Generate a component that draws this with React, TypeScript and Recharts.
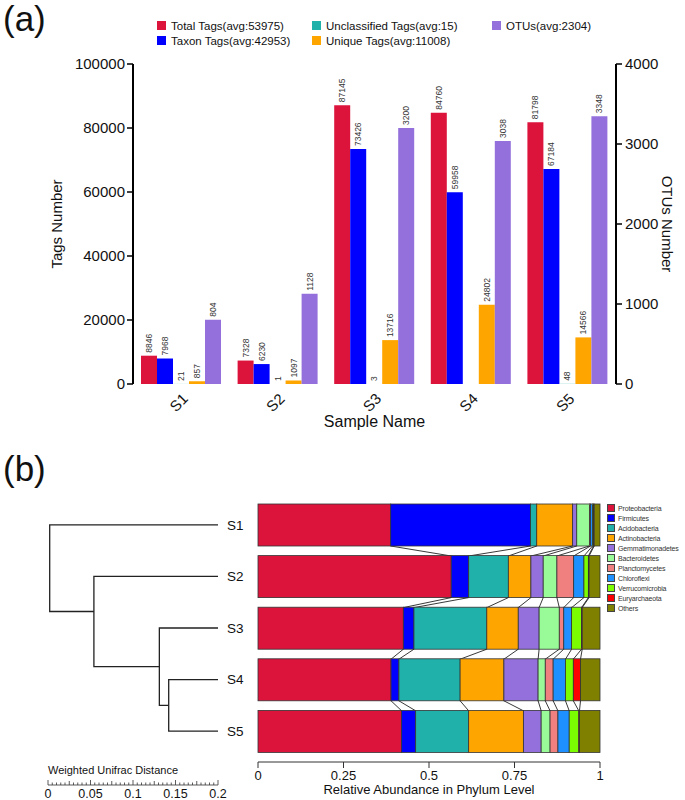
import { BarChart, Bar, XAxis, YAxis, LabelList, ScatterChart, Scatter } from 'recharts'

const FONT = 'Arial, "Liberation Sans", Helvetica, sans-serif'

const samples = ['S1', 'S2', 'S3', 'S4', 'S5']

// (a) tag counts per sample
const totalTags = [8846, 7328, 87145, 84760, 81798]
const taxonTags = [7968, 6230, 73426, 59958, 67184]
const unclassifiedTags = [21, 1, 3, 0, 48]
const uniqueTags = [857, 1097, 13716, 24802, 14566]
const otuCounts = [804, 1128, 3200, 3038, 3348]
const tagTicks = [0, 20000, 40000, 60000, 80000, 100000]
const otuTicks = [0, 1000, 2000, 3000, 4000]

const tagKeys = ['total', 'taxon', 'unclassified', 'unique', 'otus']
const tagNames = [
  'Total Tags(avg:53975)',
  'Taxon Tags(avg:42953)',
  'Unclassified Tags(avg:15)',
  'Unique Tags(avg:11008)',
  'OTUs(avg:2304)',
]
const tagValues = [totalTags, taxonTags, unclassifiedTags, uniqueTags, otuCounts]
const tagColors = ['#DC143C', '#0000FF', '#20B2AA', '#FFA500', '#9370DB']

// (b) relative abundance, phylum level
const phyla = [
  'Proteobacteria', 'Firmicutes', 'Acidobacteria', 'Actinobacteria', 'Gemmatimonadetes',
  'Bacteroidetes', 'Planctomycetes', 'Chloroflexi', 'Verrucomicrobia', 'Euryarchaeota', 'Others',
]
const abundanceS1 = [0.388, 0.409, 0.018, 0.105, 0.012, 0.037, 0.003, 0.006, 0.003, 0.002, 0.017]
const abundanceS2 = [0.565, 0.051, 0.116, 0.066, 0.036, 0.040, 0.049, 0.030, 0.013, 0.002, 0.032]
const abundanceS3 = [0.425, 0.031, 0.213, 0.092, 0.061, 0.059, 0.013, 0.023, 0.029, 0.002, 0.052]
const abundanceS4 = [0.389, 0.023, 0.179, 0.128, 0.100, 0.021, 0.023, 0.036, 0.023, 0.021, 0.057]
const abundanceS5 = [0.420, 0.041, 0.155, 0.160, 0.052, 0.026, 0.023, 0.033, 0.028, 0.002, 0.060]
const abundance = [abundanceS1, abundanceS2, abundanceS3, abundanceS4, abundanceS5]
const abundanceTicks = [0, 0.25, 0.5, 0.75, 1]
const phylumColors = [
  '#DC143C', '#0000FF', '#20B2AA', '#FFA500', '#9370DB',
  '#98FB98', '#F08080', '#1E90FF', '#7CFC00', '#FF0000', '#808000',
]

// weighted unifrac tree: x = position on the distance ruler, pos = vertical slot
const leafX = 0.2
const merges = [
  { id: 'S4+S5', a: 'S4', b: 'S5', x: 0.142, pos: 4.5 },
  { id: 'S3+', a: 'S3', b: 'S4+S5', x: 0.131, pos: 3.75 },
  { id: 'S2+', a: 'S2', b: 'S3+', x: 0.054, pos: 2.68 },
  { id: 'root', a: 'S1', b: 'S2+', x: 0.002, pos: 1.84 },
]
const rulerTicks = Array.from({ length: 41 }, (_, i) => i * 0.005)

const tagRows = samples.map((s, i) => {
  const row: Record<string, string | number> = { sample: s }
  tagKeys.forEach((k, j) => { row[k] = tagValues[j][i] })
  return row
})

const abundanceRows = samples.map((s, i) => {
  const row: Record<string, string | number> = { sample: s }
  phyla.forEach((p, j) => { row[p] = abundance[i][j] })
  return row
})

function nodeOf(id: string) {
  const leaf = samples.indexOf(id)
  if (leaf >= 0) return { x: leafX, pos: leaf + 1 }
  const m = merges.find(n => n.id === id)!
  return { x: m.x, pos: m.pos }
}

const treeLines = merges.map(m => {
  const a = nodeOf(m.a)
  const b = nodeOf(m.b)
  return [
    { x: a.x, y: a.pos },
    { x: m.x, y: a.pos },
    { x: m.x, y: b.pos },
    { x: b.x, y: b.pos },
  ]
})

// recharts puts the category gap on both sides of a band
const ROW_HALF_GAP = 5
const ROW_GAP = ROW_HALF_GAP * 2

function cumAt(row: number, k: number) {
  let s = 0
  for (let j = 0; j < k; j++) s += abundance[row][j]
  return s
}

function makeSegment(k: number) {
  return (p: any) => {
    const row = samples.indexOf(p.payload.sample)
    const { x, y, width, height } = p
    const ppu = width / abundance[row][k]
    const x0 = x - cumAt(row, k) * ppu
    const link = row < samples.length - 1 && k < phyla.length - 1
    return (
      <g>
        <rect x={x} y={y} width={width} height={height} fill={phylumColors[k]} stroke="#333" strokeWidth={0.8} />
        {link && (
          <line
            x1={x + width} y1={y + height}
            x2={x0 + cumAt(row + 1, k + 1) * ppu} y2={y + height + ROW_GAP}
            stroke="#222" strokeWidth={0.9}
          />
        )}
      </g>
    )
  }
}

const ValueLabel = (p: any) => {
  const cx = Number(p.x) + Number(p.width) / 2
  const ty = Number(p.y) - 3
  return (
    <text x={cx} y={ty} transform={`rotate(-90 ${cx} ${ty})`} dy="0.35em" fontSize={8.5} fill="#333" textAnchor="start">
      {p.value}
    </text>
  )
}

const SampleTick = (p: any) => {
  const { x, y, payload } = p
  return (
    <text x={x + 4} y={y + 4} transform={`rotate(-45 ${x + 4} ${y + 4})`} dy="0.35em" textAnchor="end" fontSize={15} fill="#111">
      {payload.value}
    </text>
  )
}

const RulerTick = (p: any) => {
  const { x, y, payload } = p
  const i = Math.round(payload.value / 0.005)
  const major = i % 10 === 0
  const h = major ? 5 : i % 5 === 0 ? 4 : 2.5
  return (
    <g>
      <line x1={x} x2={x} y1={y} y2={y - h} stroke="#333" strokeWidth={0.8} />
      {major && (
        <text x={x} y={y + 13} textAnchor="middle" fontSize={12.5} fill="#111">
          {i === 0 ? '0' : String(+payload.value.toFixed(2))}
        </text>
      )}
    </g>
  )
}

function TagsChart() {
  const axisTick = { fontSize: 15, fill: '#111' }
  return (
    <BarChart
      width={685} height={440} data={tagRows}
      margin={{ top: 64, right: 0, bottom: 10, left: 58 }}
      barCategoryGap={8} barGap={0}
    >
      <XAxis
        xAxisId="grid" type="number" domain={[0, samples.length]}
        ticks={samples.map((_, i) => i).concat(samples.length)}
        height={0} interval={0} tickFormatter={() => ''} tickSize={6}
        axisLine={{ stroke: '#000', strokeWidth: 2 }} tickLine={{ stroke: '#000', strokeWidth: 1.5 }}
      />
      <XAxis
        xAxisId="cat" dataKey="sample" height={46} axisLine={false} tickLine={false}
        interval={0} tick={<SampleTick />}
        label={({ viewBox }: any) => (
          <text x={viewBox.x + viewBox.width / 2} y={viewBox.y + 43} textAnchor="middle" fontSize={16} fill="#111">
            Sample Name
          </text>
        )}
      />
      <YAxis
        yAxisId="tags" width={75} domain={[0, 100000]} ticks={tagTicks} interval={0}
        tick={axisTick} tickSize={6} tickMargin={2}
        axisLine={{ stroke: '#000', strokeWidth: 2 }} tickLine={{ stroke: '#000', strokeWidth: 1.5 }}
        label={({ viewBox }: any) => {
          const cy = viewBox.y + viewBox.height / 2
          return (
            <text x={57} y={cy} transform={`rotate(-90 57 ${cy})`} dy="0.35em" textAnchor="middle" fontSize={15} fill="#111">
              Tags Number
            </text>
          )
        }}
      />
      <YAxis
        yAxisId="otus" orientation="right" width={69} domain={[0, 4000]} ticks={otuTicks} interval={0}
        tick={axisTick} tickSize={6} tickMargin={3}
        axisLine={{ stroke: '#000', strokeWidth: 2 }} tickLine={{ stroke: '#000', strokeWidth: 1.5 }}
        label={({ viewBox }: any) => {
          const cy = viewBox.y + viewBox.height / 2
          return (
            <text x={667} y={cy} transform={`rotate(90 667 ${cy})`} dy="0.35em" textAnchor="middle" fontSize={15} fill="#111">
              OTUs Number
            </text>
          )
        }}
      />
      {tagKeys.map((k, j) => (
        <Bar
          key={k} dataKey={k} name={tagNames[j]} xAxisId="cat"
          yAxisId={k === 'otus' ? 'otus' : 'tags'}
          fill={tagColors[j]} isAnimationActive={false}
        >
          <LabelList dataKey={k} content={<ValueLabel />} />
        </Bar>
      ))}
    </BarChart>
  )
}

function TreeChart() {
  return (
    <ScatterChart width={258} height={320} margin={{ top: 19, right: 0, bottom: 0, left: 48 }}>
      <XAxis
        type="number" dataKey="x" domain={[0, 0.2]} ticks={rulerTicks} interval={0}
        height={15} tickSize={0} tickMargin={0} tick={<RulerTick />}
        axisLine={{ stroke: '#333', strokeWidth: 0.8 }}
        label={({ viewBox }: any) => (
          <text x={viewBox.x} y={viewBox.y - 11} fontSize={11} fill="#111">Weighted Unifrac Distance</text>
        )}
      />
      <YAxis
        type="number" dataKey="y" domain={[0.5, samples.length + 0.5]} reversed orientation="right"
        width={40} ticks={samples.map((_, i) => i + 1)} interval={0}
        tickFormatter={(v: number) => samples[v - 1]} axisLine={false} tickLine={false}
        tickSize={0} tickMargin={9} tick={{ fontSize: 13.5, fill: '#111' }}
        padding={{ top: 0, bottom: 28 }}
      />
      {treeLines.map((pts, i) => (
        <Scatter
          key={i} data={pts} line={{ stroke: '#222', strokeWidth: 1.3 }}
          shape={() => <g />} isAnimationActive={false}
        />
      ))}
    </ScatterChart>
  )
}

function AbundanceChart() {
  return (
    <BarChart
      layout="vertical" width={435} height={320} data={abundanceRows}
      margin={{ top: 19, right: 85, bottom: 2, left: 8 }} barCategoryGap={ROW_HALF_GAP}
    >
      <XAxis
        type="number" domain={[0, 1]} ticks={abundanceTicks} interval={0} height={36}
        tickFormatter={(v: number) => String(v)} tickSize={6} tickMargin={3}
        tick={{ fontSize: 13, fill: '#111' }}
        axisLine={{ stroke: '#333' }} tickLine={{ stroke: '#333' }}
        label={({ viewBox }: any) => (
          <text x={viewBox.x + viewBox.width / 2} y={viewBox.y + 32} textAnchor="middle" fontSize={13} fill="#111">
            Relative Abundance in Phylum Level
          </text>
        )}
      />
      <YAxis type="category" dataKey="sample" hide padding={{ top: 0, bottom: 5 }} />
      {phyla.map((p, k) => (
        <Bar key={p} dataKey={p} stackId="phylum" fill={phylumColors[k]} shape={makeSegment(k)} isAnimationActive={false} />
      ))}
    </BarChart>
  )
}

export default function App() {
  return (
    <div style={{ position: 'absolute', left: 0, top: 0, width: 685, height: 800, background: '#fff', fontFamily: FONT, color: '#111', overflow: 'hidden' }}>
      <div style={{ position: 'absolute', left: 0, top: 0 }}>
        <TagsChart />
      </div>
      <div style={{ position: 'absolute', left: 3, top: 0, fontSize: 35, lineHeight: '38px' }}>(a)</div>
      <div
        style={{
          position: 'absolute', left: 157, top: 18, display: 'grid',
          gridTemplateRows: '15px 15px', gridAutoFlow: 'column',
          gridTemplateColumns: '155px 180px 150px', fontSize: 11.5,
        }}
      >
        {tagNames.map((n, j) => (
          <div key={n} style={{ display: 'flex', alignItems: 'center', whiteSpace: 'nowrap' }}>
            <span style={{ width: 9, height: 9, background: tagColors[j], marginRight: 5, display: 'inline-block' }} />
            {n}
          </div>
        ))}
      </div>

      <div style={{ position: 'absolute', left: 3, top: 450, fontSize: 35, lineHeight: '38px' }}>(b)</div>
      <div style={{ position: 'absolute', left: 0, top: 480 }}>
        <TreeChart />
      </div>
      <div style={{ position: 'absolute', left: 250, top: 480 }}>
        <AbundanceChart />
      </div>
      <div style={{ position: 'absolute', left: 607, top: 503, fontSize: 7, letterSpacing: -0.15, color: '#333' }}>
        {phyla.map((p, k) => (
          <div key={p} style={{ display: 'flex', alignItems: 'center', height: 10, whiteSpace: 'nowrap' }}>
            <span style={{ width: 6, height: 6, background: phylumColors[k], border: '0.5px solid #444', marginRight: 3, display: 'inline-block' }} />
            {p}
          </div>
        ))}
      </div>
    </div>
  )
}
